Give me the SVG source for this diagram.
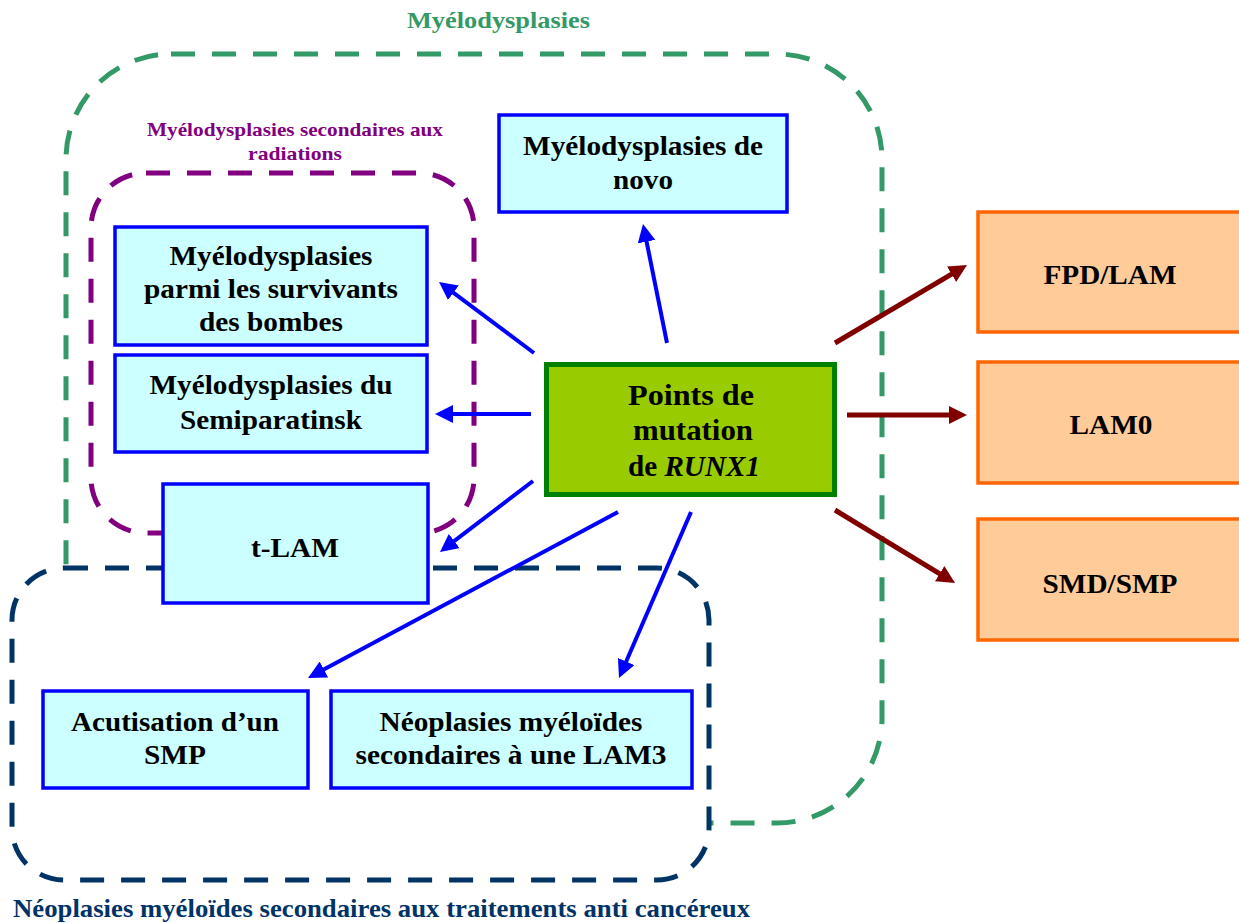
<svg xmlns="http://www.w3.org/2000/svg" width="1239" height="923" viewBox="0 0 1239 923">
<style>
text{font-family:"Liberation Serif","Times New Roman",serif;font-weight:bold;text-anchor:middle}
.bx{fill:#CCFFFF;stroke:#0000FF;stroke-width:3.5}
.or{fill:#FFCC99;stroke:#FF6600;stroke-width:3.5}
.t{font-size:27px;fill:#000}
.dash{stroke-width:5;stroke-dasharray:24 17}
.ab{stroke:#0000FF;stroke-width:4;fill:none;marker-end:url(#hb)}
.ar{stroke:#800000;stroke-width:5;fill:none;marker-end:url(#hr)}
</style>
<defs>
<marker id="hb" markerUnits="userSpaceOnUse" markerWidth="20" markerHeight="18" refX="6" refY="9" orient="auto"><path d="M0,0 L18,9 L0,18 z" fill="#0000FF"/></marker>
<marker id="hr" markerUnits="userSpaceOnUse" markerWidth="20" markerHeight="18" refX="6" refY="9" orient="auto"><path d="M0,0 L18,9 L0,18 z" fill="#800000"/></marker>
</defs>
<rect width="1239" height="923" fill="#fff"/>
<g id="grp-myelo">
<rect x="66" y="54" width="816" height="769" rx="105" ry="105" fill="none" stroke="#339966" class="dash"/>
<text x="498.5" y="28" font-size="24" fill="#339966" textLength="183" lengthAdjust="spacingAndGlyphs">Myélodysplasies</text>
</g>
<g id="grp-radiations">
<rect x="91" y="173" width="383" height="360" rx="55" ry="55" fill="none" stroke="#800080" class="dash"/>
<text x="295" y="136" font-size="19" fill="#800080" textLength="296" lengthAdjust="spacingAndGlyphs">Myélodysplasies secondaires aux</text>
<text x="295" y="160" font-size="19" fill="#800080" textLength="94" lengthAdjust="spacingAndGlyphs">radiations</text>
</g>
<g id="grp-neoplasies">
<rect x="12" y="568" width="697" height="312" rx="52" ry="52" fill="#fff" stroke="#003366" class="dash"/>
<text x="381.5" y="917" font-size="26" fill="#003366" textLength="737" lengthAdjust="spacingAndGlyphs">Néoplasies myéloïdes secondaires aux traitements anti cancéreux</text>
</g>
<g id="n-denovo">
<rect class="bx" x="499" y="115" width="288" height="97"/>
<text class="t" x="643" y="155" textLength="240" lengthAdjust="spacingAndGlyphs">Myélodysplasies de</text>
<text class="t" x="643" y="189" textLength="60" lengthAdjust="spacingAndGlyphs">novo</text>
</g>
<g id="n-bombes">
<rect class="bx" x="115" y="227" width="312" height="118"/>
<text class="t" x="271" y="265" textLength="203" lengthAdjust="spacingAndGlyphs">Myélodysplasies</text>
<text class="t" x="271" y="298" textLength="254" lengthAdjust="spacingAndGlyphs">parmi les survivants</text>
<text class="t" x="271" y="331" textLength="144" lengthAdjust="spacingAndGlyphs">des bombes</text>
</g>
<g id="n-semi">
<rect class="bx" x="115" y="355" width="312" height="97"/>
<text class="t" x="271" y="394" textLength="243" lengthAdjust="spacingAndGlyphs">Myélodysplasies du</text>
<text class="t" x="271" y="429" textLength="182" lengthAdjust="spacingAndGlyphs">Semiparatinsk</text>
</g>
<g id="n-tlam">
<rect class="bx" x="163" y="484" width="265" height="119"/>
<text class="t" x="295" y="557" textLength="88" lengthAdjust="spacingAndGlyphs">t-LAM</text>
</g>
<g id="n-acutisation">
<rect class="bx" x="43" y="691" width="265" height="97"/>
<text class="t" x="175" y="731" textLength="208" lengthAdjust="spacingAndGlyphs">Acutisation d’un</text>
<text class="t" x="175" y="764" textLength="62" lengthAdjust="spacingAndGlyphs">SMP</text>
</g>
<g id="n-lam3">
<rect class="bx" x="331" y="691" width="361" height="97"/>
<text class="t" x="511" y="731" textLength="263" lengthAdjust="spacingAndGlyphs">Néoplasies myéloïdes</text>
<text class="t" x="511" y="764" textLength="311" lengthAdjust="spacingAndGlyphs">secondaires à une LAM3</text>
</g>
<g id="n-runx1">
<rect x="546.5" y="364.5" width="288" height="130" fill="#99CC00" stroke="#008000" stroke-width="5"/>
<text x="691" y="405" font-size="30" textLength="126" lengthAdjust="spacingAndGlyphs">Points de</text>
<text x="693" y="440" font-size="30" textLength="120" lengthAdjust="spacingAndGlyphs">mutation</text>
<text x="694" y="476" font-size="30" textLength="132" lengthAdjust="spacingAndGlyphs">de <tspan font-style="italic">RUNX1</tspan></text>
</g>
<g id="n-fpd">
<rect class="or" x="978" y="212" width="280" height="120"/>
<text class="t" x="1110" y="284" textLength="133" lengthAdjust="spacingAndGlyphs">FPD/LAM</text>
</g>
<g id="n-lam0">
<rect class="or" x="978" y="362" width="280" height="121"/>
<text class="t" x="1111" y="434" textLength="83" lengthAdjust="spacingAndGlyphs">LAM0</text>
</g>
<g id="n-smd">
<rect class="or" x="978" y="519" width="280" height="121"/>
<text class="t" x="1110" y="593" textLength="135" lengthAdjust="spacingAndGlyphs">SMD/SMP</text>
</g>
<g id="connectors">
<line class="ab" x1="667" y1="343" x2="645.4" y2="235.8"/>
<line class="ab" x1="534" y1="353" x2="448.6" y2="289.2"/>
<line class="ab" x1="531" y1="414" x2="447" y2="414"/>
<line class="ab" x1="533" y1="481" x2="449.5" y2="544.7"/>
<line class="ab" x1="618" y1="512" x2="318.6" y2="672.3"/>
<line class="ab" x1="691" y1="512" x2="623.8" y2="667"/>
<line class="ar" x1="835" y1="343" x2="956.7" y2="271.1"/>
<line class="ar" x1="847" y1="415" x2="955" y2="415"/>
<line class="ar" x1="835" y1="510" x2="944.8" y2="576.8"/>
</g>
</svg>
